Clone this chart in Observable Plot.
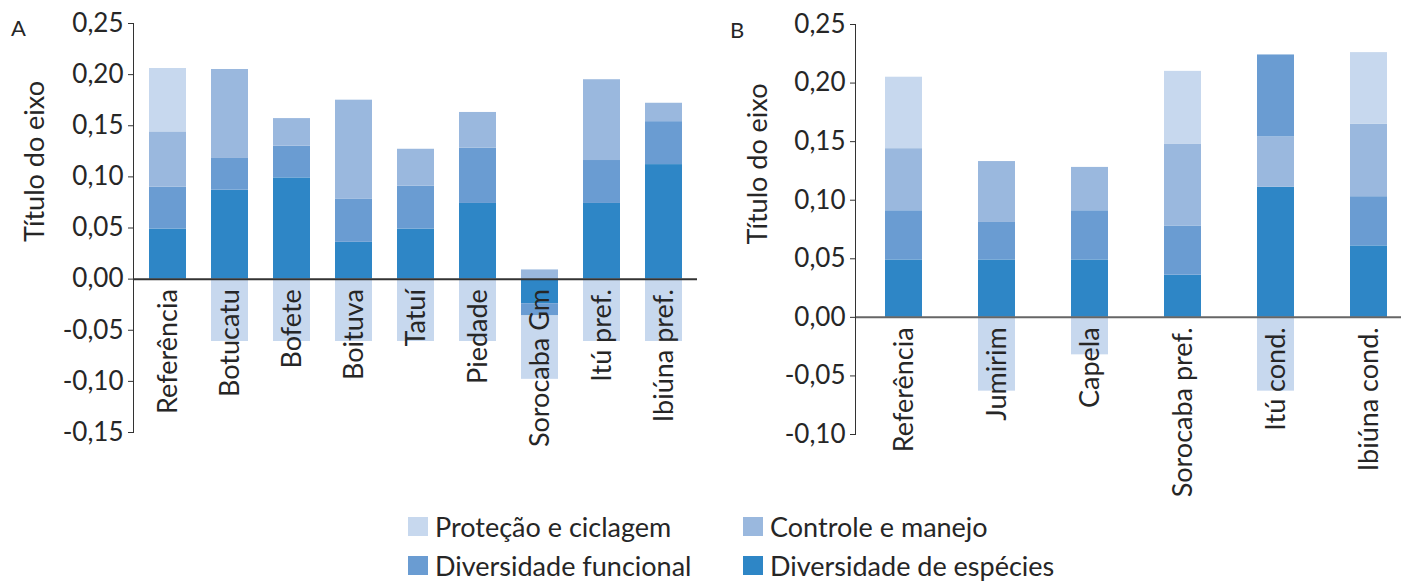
<!DOCTYPE html>
<html><head><meta charset="utf-8">
<script src="https://cdn.jsdelivr.net/npm/d3@7"></script>
<script src="https://cdn.jsdelivr.net/npm/@observablehq/plot@0.6"></script>
<style>
html,body{margin:0;padding:0;overflow:hidden;background:#fff;}
#wrap{position:relative;width:1401px;height:581px;overflow:hidden;font-family:Lato,sans-serif;color:#262626;}
.panel{position:absolute;top:0;}
.tag{position:absolute;font-size:22px;line-height:1;}
.lg{position:absolute;display:flex;align-items:center;font-size:27px;line-height:1;white-space:nowrap;}
.sw{width:20px;height:19px;margin-right:7px;}
</style></head><body>
<div id="wrap">
  <div id="pa" class="panel" style="left:0;width:700px"></div>
  <div id="pb" class="panel" style="left:700px;width:720px"></div>
  <div class="tag" style="left:11px;top:17px">A</div>
  <div class="tag" style="left:730px;top:19px">B</div>
  <div id="legend"></div>
</div>
<script>
const seriesNames = ["Diversidade de espécies", "Diversidade funcional", "Controle e manejo", "Proteção e ciclagem"];
const seriesColors = ["#2e86c6", "#6a9cd2", "#9ab8de", "#c7d8ee"];

// Panel A
const sitesA = ["Referência", "Botucatu", "Bofete", "Boituva", "Tatuí", "Piedade", "Sorocaba Gm", "Itú pref.", "Ibiúna pref."];
const especiesA  = [0.049, 0.087, 0.099, 0.036, 0.049, 0.074, -0.024, 0.074, 0.112];
const funcionalA = [0.041, 0.031, 0.031, 0.042, 0.042, 0.054, -0.012, 0.042, 0.042];
const controleA  = [0.054, 0.087, 0.027, 0.097, 0.036, 0.035, 0.009, 0.079, 0.018];
const protecaoA  = [0.062, -0.061, -0.061, -0.061, -0.061, -0.061, -0.062, -0.061, -0.061];
const yTicksA = [-0.15, -0.10, -0.05, 0, 0.05, 0.10, 0.15, 0.20, 0.25];

// Panel B
const sitesB = ["Referência", "Jumirim", "Capela", "Sorocaba pref.", "Itú cond.", "Ibiúna cond."];
const especiesB  = [0.049, 0.049, 0.049, 0.036, 0.111, 0.061];
const funcionalB = [0.042, 0.032, 0.042, 0.042, 0.070, 0.042];
const controleB  = [0.053, 0.052, 0.037, 0.070, 0.043, 0.062];
const protecaoB  = [0.061, -0.063, -0.032, 0.062, -0.063, 0.061];
// stacking order (series index, bottom to top) for each site of panel B
const stackOrderB = [[0,1,2,3],[0,1,2,3],[0,1,2,3],[0,1,2,3],[0,2,1,3],[0,1,2,3]];
const yTicksB = [-0.10, -0.05, 0, 0.05, 0.10, 0.15, 0.20, 0.25];

const yTitle = "Título do eixo";
const fmt = d => d.toFixed(2).replace(".", ",");

function rows(sites, cols, orders) {
  const out = [];
  sites.forEach((s, i) => {
    const ord = orders ? orders[i] : [0,1,2,3];
    ord.forEach(k => out.push({site: s, series: seriesNames[k], value: cols[k][i]}));
  });
  return out;
}
const rowsA = rows(sitesA, [especiesA, funcionalA, controleA, protecaoA]);
const rowsB = rows(sitesB, [especiesB, funcionalB, controleB, protecaoB], stackOrderB);

function panel({sites, data, ticks, domain, width, height, mL, mR, mT, mB, pIn, pOut, zeroStroke, titleDx, titleDy}) {
  return Plot.plot({
    width, height, marginLeft: mL, marginRight: mR, marginTop: mT, marginBottom: mB,
    style: {fontFamily: "Lato, sans-serif", color: "#262626", overflow: "visible"},
    x: {domain: sites, paddingInner: pIn, paddingOuter: pOut, axis: null},
    y: {domain, axis: null},
    color: {domain: seriesNames, range: seriesColors},
    marks: [
      Plot.barY(data, {x: "site", y: "value", fill: "series"}),
      Plot.ruleY([0], {stroke: zeroStroke, strokeWidth: 2}),
      Plot.axisY({ticks, tickFormat: fmt, tickSize: 5, tickPadding: 5, fontSize: 26, stroke: "#333", label: null}),
      Plot.frame({anchor: "left", stroke: "#333"}),
      Plot.text(sites, {x: d => d, y: 0, text: d => d, rotate: -90, textAnchor: "end", dy: 10, fontSize: 27, fill: "#262626"}),
      Plot.text([yTitle], {frameAnchor: "left", dx: titleDx, dy: titleDy, rotate: -90, fontSize: 27, fill: "#262626"})
    ]
  });
}

document.getElementById("pa").append(panel({
  sites: sitesA, data: rowsA, ticks: yTicksA, domain: [-0.15, 0.25],
  width: 700, height: 500, mL: 133, mR: 3, mT: 23, mB: 68, pIn: 0.41, pOut: 0.205,
  zeroStroke: "#333", titleDx: -98, titleDy: 14
}));
document.getElementById("pb").append(panel({
  sites: sitesB, data: rowsB, ticks: yTicksB, domain: [-0.10, 0.25],
  width: 720, height: 500, mL: 155, mR: 4, mT: 24, mB: 66, pIn: 0.604, pOut: 0.302,
  zeroStroke: "#666", titleDx: -97, titleDy: 15
}));

// Legend
const legendPos = [
  {k: 3, left: 408, top: 513},
  {k: 2, left: 743, top: 513},
  {k: 1, left: 408, top: 552},
  {k: 0, left: 743, top: 552}
];
const lg = document.getElementById("legend");
legendPos.forEach(p => {
  const d = document.createElement("div");
  d.className = "lg";
  d.style.left = p.left + "px";
  d.style.top = p.top + "px";
  const sw = document.createElement("div");
  sw.className = "sw";
  sw.style.background = seriesColors[p.k];
  const t = document.createElement("span");
  t.textContent = seriesNames[p.k];
  d.append(sw, t);
  lg.append(d);
});
</script>
</body></html>
